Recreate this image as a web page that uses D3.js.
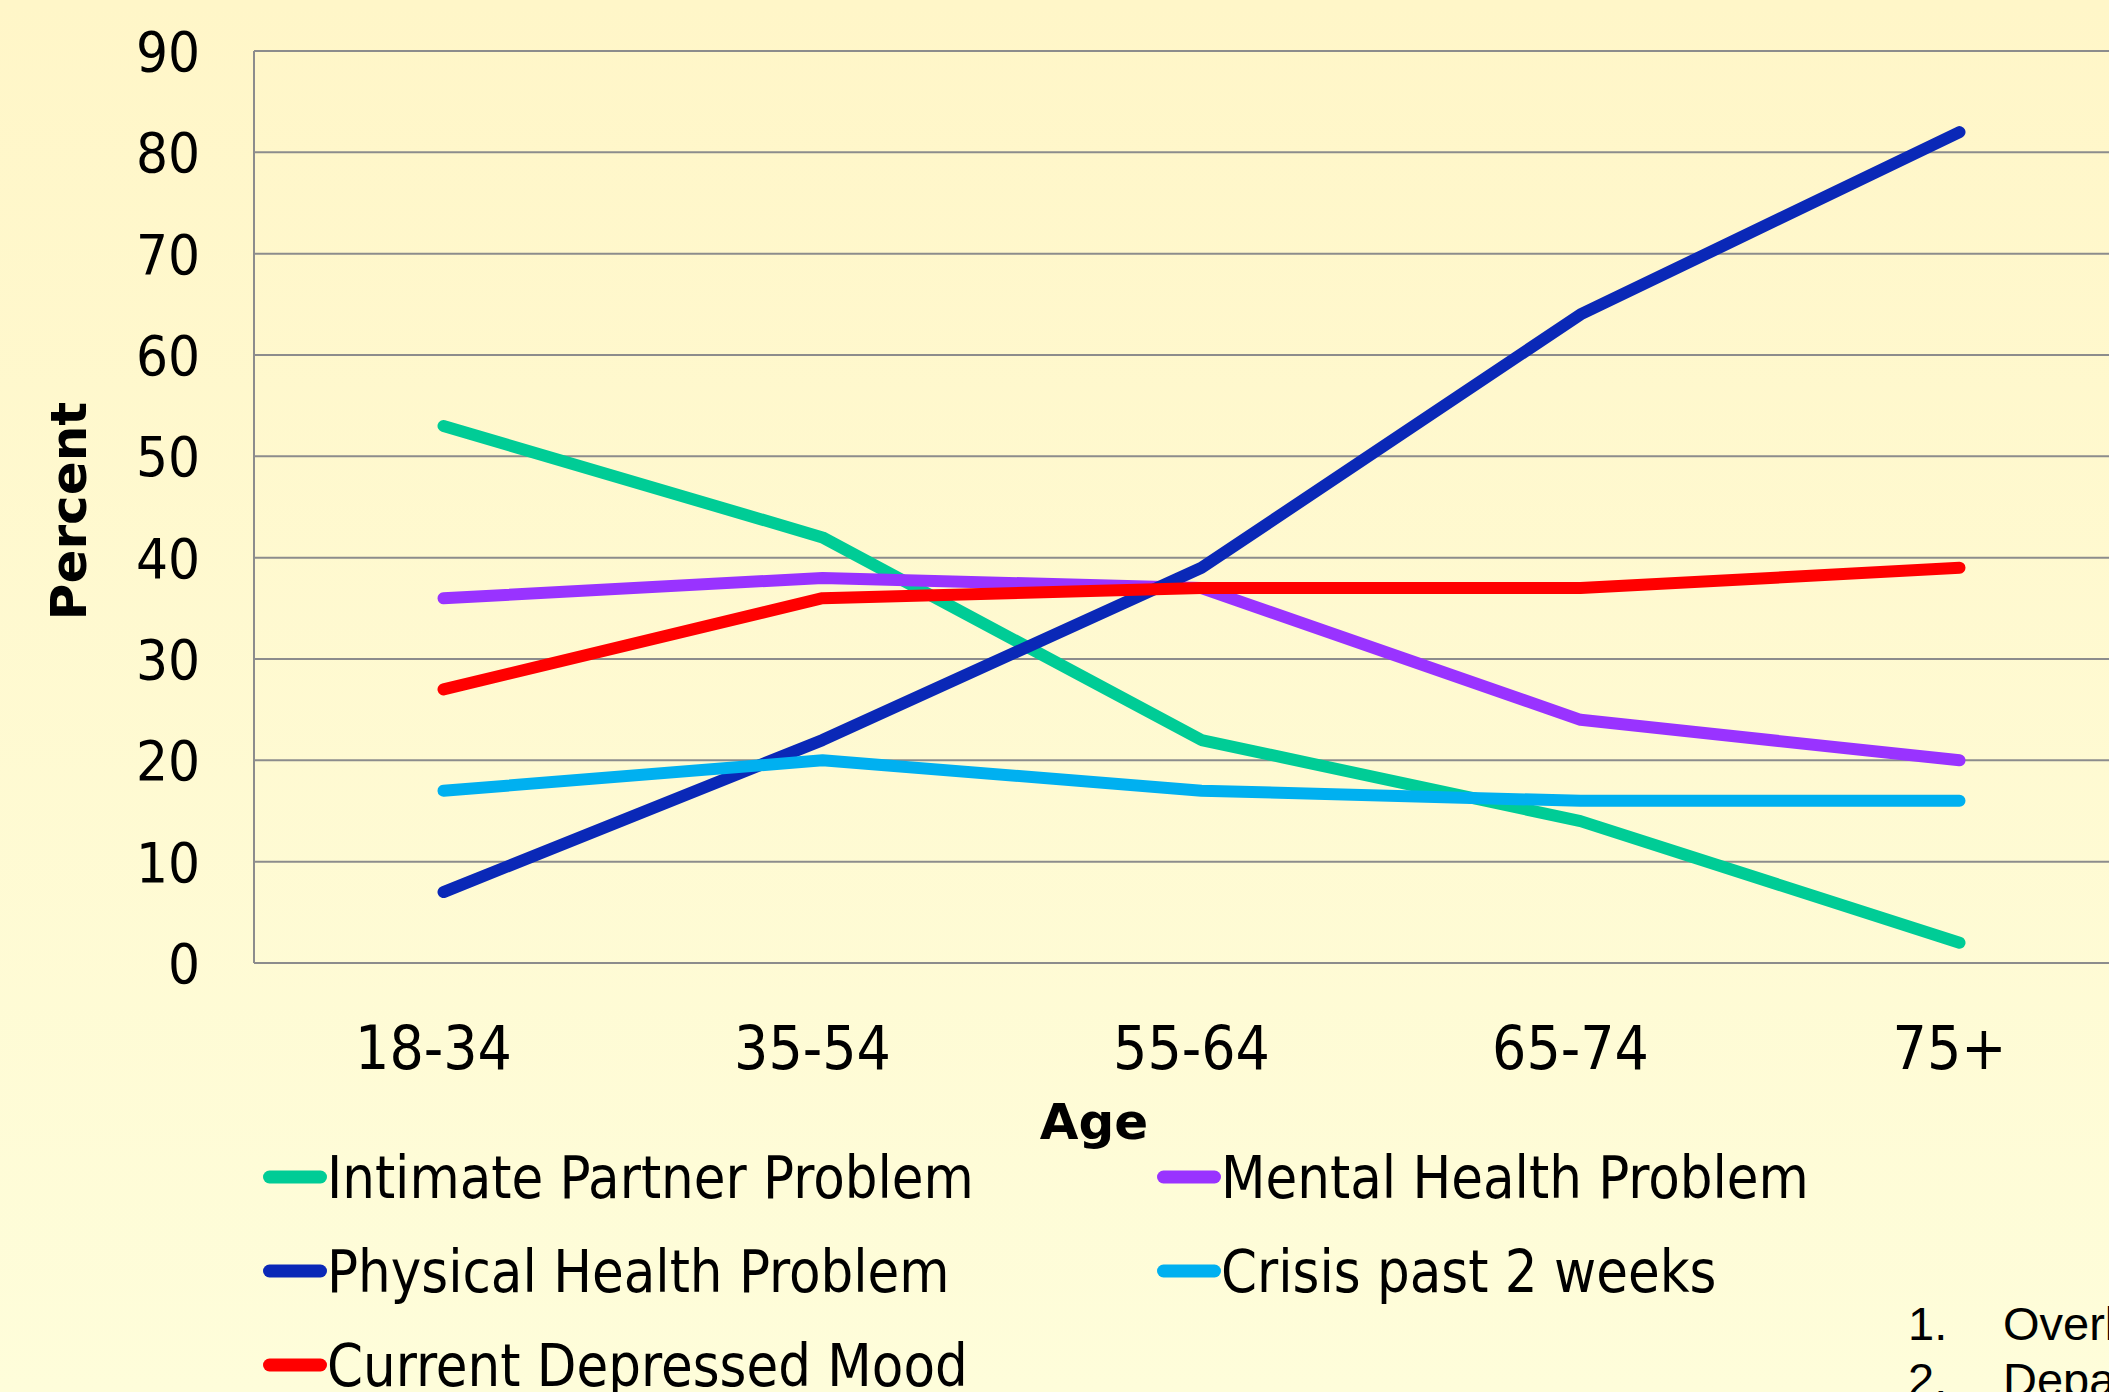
<!DOCTYPE html>
<html>
<head>
<meta charset="utf-8">
<script src="https://cdn.jsdelivr.net/npm/d3@7"></script>
<style>
  html, body { margin: 0; padding: 0; overflow: hidden; }
  svg { display: block; }
  .tick-label, .legend-label { font-family: "DejaVu Sans Condensed", "DejaVu Sans", sans-serif; fill: #000; }
  .axis-title { font-family: "DejaVu Sans", sans-serif; font-weight: bold; fill: #000; }
  .note { font-family: "Liberation Sans", Arial, sans-serif; fill: #000; }
</style>
</head>
<body>
<div id="chart"></div>
<script>
(function(){
	var ageGroups = ["18-34", "35-54", "55-64", "65-74", "75+"];
	var yTicks = [0, 10, 20, 30, 40, 50, 60, 70, 80, 90];

	var intimatePartner = [53, 42, 22, 14, 2];
	var mentalHealth = [36, 38, 37, 24, 20];
	var physicalHealth = [7, 22, 39, 64, 82];
	var crisisTwoWeeks = [17, 20, 17, 16, 16];
	var depressedMood = [27, 36, 37, 37, 39];

	var seriesNames = ["Intimate Partner Problem", "Mental Health Problem", "Physical Health Problem",
		"Crisis past 2 weeks", "Current Depressed Mood"];
	var seriesColors = ["#00cc96", "#9933ff", "#0a28b7", "#00b0f0", "#ff0000"];
	var seriesValues = [intimatePartner, mentalHealth, physicalHealth, crisisTwoWeeks, depressedMood];

	var notes = [["1.", "Overlapping"], ["2.", "Departure"]];

	var width = 2109, height = 1392;
	var margin = {top: 51, left: 254, right: 0, bottom: 432};

	var svg = d3.select("#chart")
				.append("svg")
				.attr("width", width)
				.attr("height", height);

	var grad = svg.append("defs").append("linearGradient")
				.attr("id", "bg").attr("x1", 0).attr("y1", 0).attr("x2", 0).attr("y2", 1);
	grad.append("stop").attr("offset", "0%").attr("stop-color", "#fff6c8");
	grad.append("stop").attr("offset", "100%").attr("stop-color", "#fefdda");

	svg.append("rect").attr("width", width).attr("height", height).attr("fill", "url(#bg)");

	var x = d3.scaleBand()
			  .domain(ageGroups)
			  .range([margin.left, margin.left + 5 * 379]);

	var y = d3.scaleLinear()
			  .domain([0, 90])
			  .range([height - margin.bottom + 3, margin.top]);

	// gridlines
	svg.append("g").selectAll("line")
	   .data(yTicks)
	   .enter().append("line")
	   .attr("x1", margin.left).attr("x2", width)
	   .attr("y1", function(d){ return y(d); })
	   .attr("y2", function(d){ return y(d); })
	   .attr("stroke", "#8c8c8c")
	   .attr("stroke-width", 2);

	svg.append("line")
	   .attr("x1", margin.left).attr("x2", margin.left)
	   .attr("y1", y(0)).attr("y2", y(90))
	   .attr("stroke", "#8c8c8c")
	   .attr("stroke-width", 2);

	// y labels
	svg.append("g").selectAll("text")
	   .data(yTicks)
	   .enter().append("text")
	   .attr("class", "tick-label")
	   .attr("x", margin.left - 54)
	   .attr("y", function(d){ return y(d); })
	   .attr("dy", "0.36em")
	   .attr("text-anchor", "end")
	   .style("font-size", "56px")
	   .text(function(d){ return d; });

	// x labels
	svg.append("g").selectAll("text")
	   .data(ageGroups)
	   .enter().append("text")
	   .attr("class", "tick-label")
	   .attr("x", function(d){ return x(d) + x.bandwidth() / 2 - 10; })
	   .attr("y", 1069)
	   .attr("text-anchor", "middle")
	   .style("font-size", "60px")
	   .text(function(d){ return d; });

	svg.append("text")
	   .attr("class", "axis-title")
	   .attr("x", 1094).attr("y", 1139)
	   .attr("text-anchor", "middle")
	   .style("font-size", "50px")
	   .text("Age");

	svg.append("text")
	   .attr("class", "axis-title")
	   .attr("transform", "translate(86,511) rotate(-90)")
	   .attr("text-anchor", "middle")
	   .style("font-size", "50px")
	   .text("Percent");

	// lines
	var line = d3.line()
				 .x(function(d, i){ return x(ageGroups[i]) + x.bandwidth() / 2; })
				 .y(function(d){ return y(d); });

	svg.append("g").selectAll("path")
	   .data(seriesValues)
	   .enter().append("path")
	   .attr("d", line)
	   .attr("fill", "none")
	   .attr("stroke", function(d, i){ return seriesColors[i]; })
	   .attr("stroke-width", 12)
	   .attr("stroke-linecap", "round")
	   .attr("stroke-linejoin", "round");

	// legend: two columns, filled row by row
	var legend = svg.append("g").selectAll("g")
	   .data(seriesNames)
	   .enter().append("g")
	   .attr("transform", function(d, i){
			var col = i % 2, row = Math.floor(i / 2);
			return "translate(" + (263 + col * 894) + "," + (1177 + row * 94) + ")";
	   });

	legend.append("line")
	   .attr("x1", 6.5).attr("x2", 57.5)
	   .attr("stroke", function(d, i){ return seriesColors[i]; })
	   .attr("stroke-width", 13)
	   .attr("stroke-linecap", "round");

	legend.append("text")
	   .attr("class", "legend-label")
	   .attr("transform", "translate(64,0) scale(0.972,1)")
	   .attr("dy", "0.36em")
	   .style("font-size", "59px")
	   .text(function(d){ return d; });

	// notes at bottom right, cut by the page edge
	var note = svg.append("g").selectAll("g")
	   .data(notes)
	   .enter().append("g")
	   .attr("transform", function(d, i){ return "translate(1908," + (1340 + i * 56) + ")"; });
	note.append("text").attr("class", "note").style("font-size", "47px").text(function(d){ return d[0]; });
	note.append("text").attr("class", "note").attr("x", 95).style("font-size", "47px").text(function(d){ return d[1]; });
})();
</script>
</body>
</html>
